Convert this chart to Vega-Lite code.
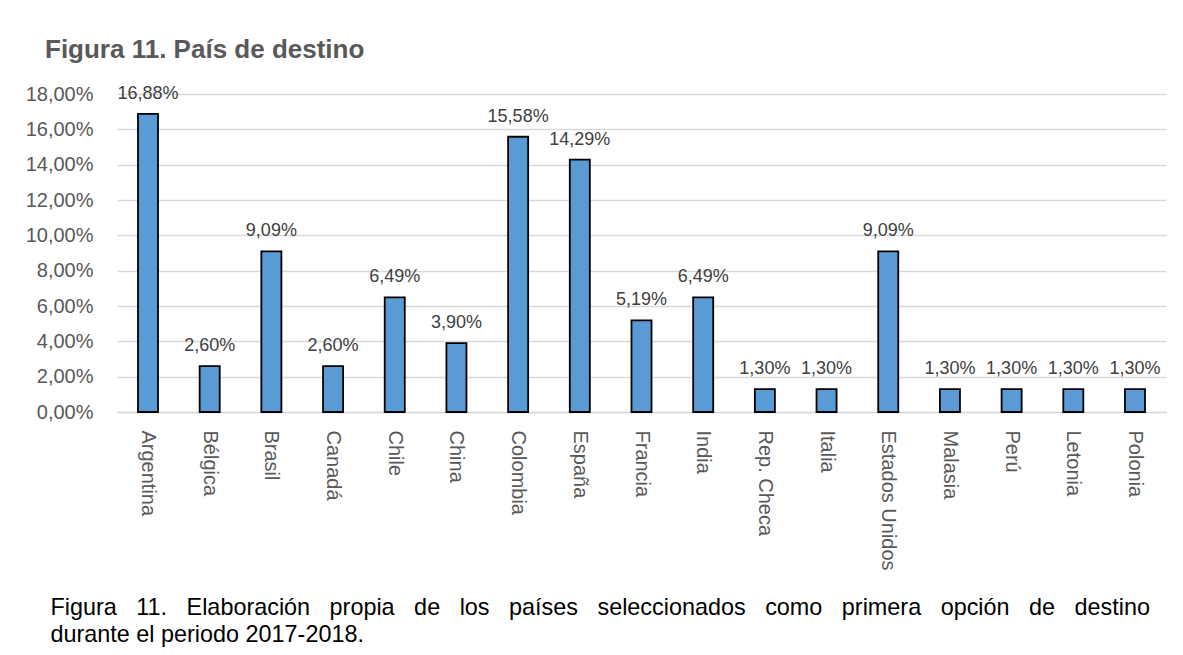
{
  "$schema": "https://vega.github.io/schema/vega-lite/v6.json",
  "width": 1049,
  "height": 318,
  "autosize": {"type": "none"},
  "padding": {"left": 117, "top": 94, "right": 17, "bottom": 243},
  "background": "white",
  "config": {
    "locale": {"number": {"decimal": ",", "thousands": ".", "grouping": [3], "currency": ["", " €"]}},
    "view": {"stroke": null},
    "font": "Liberation Sans"
  },
  "title": {
    "text": "Figura 11. País de destino",
    "anchor": "start",
    "frame": "group",
    "dx": -72,
    "fontSize": 26,
    "fontWeight": "bold",
    "color": "#595959",
    "font": "Liberation Sans",
    "baseline": "alphabetic",
    "offset": 0
  },
  "data": {
    "values": [
      {"pais": "Argentina", "valor": 0.1688},
      {"pais": "Bélgica", "valor": 0.026},
      {"pais": "Brasil", "valor": 0.0909},
      {"pais": "Canadá", "valor": 0.026},
      {"pais": "Chile", "valor": 0.0649},
      {"pais": "China", "valor": 0.039},
      {"pais": "Colombia", "valor": 0.1558},
      {"pais": "España", "valor": 0.1429},
      {"pais": "Francia", "valor": 0.0519},
      {"pais": "India", "valor": 0.0649},
      {"pais": "Rep. Checa", "valor": 0.013},
      {"pais": "Italia", "valor": 0.013},
      {"pais": "Estados Unidos", "valor": 0.0909},
      {"pais": "Malasia", "valor": 0.013},
      {"pais": "Perú", "valor": 0.013},
      {"pais": "Letonia", "valor": 0.013},
      {"pais": "Polonia", "valor": 0.013}
    ]
  },
  "encoding": {
    "x": {
      "field": "pais",
      "type": "nominal",
      "sort": null,
      "scale": {"paddingInner": 0.675, "paddingOuter": 0.34},
      "axis": {
        "title": ["Figura\u00a0\u00a0 11.\u00a0\u00a0 Elaboración\u00a0\u00a0 propia\u00a0\u00a0 de\u00a0\u00a0 los\u00a0\u00a0 países\u00a0\u00a0 seleccionados\u00a0\u00a0 como\u00a0\u00a0 primera\u00a0\u00a0 opción\u00a0\u00a0 de\u00a0\u00a0 destino", "durante el periodo 2017-2018."],
        "titleAnchor": "start",
        "titleAlign": "left",
        "titleBaseline": "alphabetic",
        "titleX": -67,
        "titleY": 202,
        "titleFontSize": 23.4,
        "titleFontWeight": "normal",
        "titleColor": "#000000",
        "titleFont": "Liberation Sans",
        "titleLineHeight": 27,
        "titleLimit": 0,
        "labelAngle": 90,
        "labelAlign": "left",
        "labelBaseline": "middle",
        "labelFontSize": 20,
        "labelColor": "#595959",
        "labelPadding": 18,
        "ticks": false,
        "domainColor": "#d9d9d9",
        "domainWidth": 1.5,
        "labelOverlap": false,
        "labelLimit": 0
      }
    },
    "y": {
      "field": "valor",
      "type": "quantitative",
      "scale": {"domain": [0, 0.18], "nice": false},
      "axis": {
        "title": null,
        "format": ".2%",
        "values": [0, 0.02, 0.04, 0.06, 0.08, 0.1, 0.12, 0.14, 0.16, 0.18],
        "labelFontSize": 20,
        "labelColor": "#595959",
        "labelPadding": 24,
        "ticks": false,
        "domain": false,
        "gridColor": "#d9d9d9",
        "gridWidth": 1.3
      }
    }
  },
  "layer": [
    {
      "mark": {"type": "bar", "color": "#5B9BD5", "stroke": "#000000", "strokeWidth": 1.8}
    },
    {
      "mark": {"type": "text", "baseline": "alphabetic", "dy": -15, "fontSize": 18, "color": "#404040"},
      "encoding": {"text": {"field": "valor", "type": "quantitative", "format": ".2%"}}
    }
  ]
}
